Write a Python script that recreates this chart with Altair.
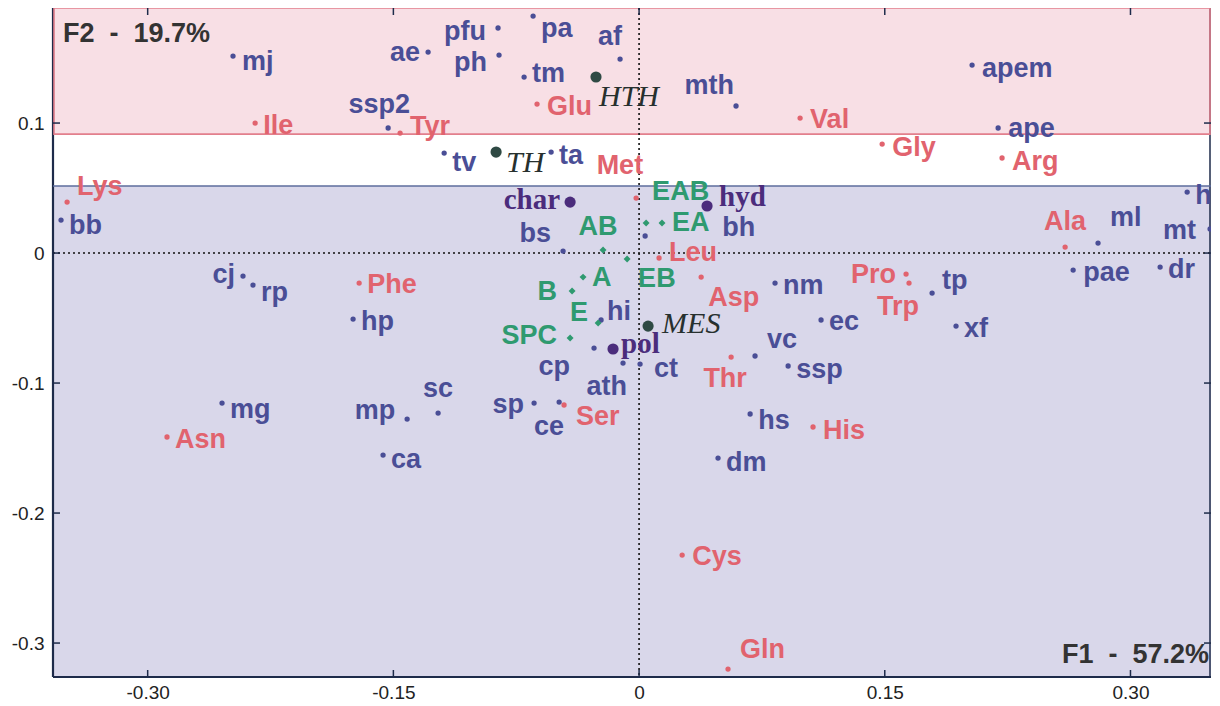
import altair as alt
import pandas as pd

# ---------------- data ----------------
species = ["mj", "ae", "pfu", "pa", "ph", "tm", "af", "mth", "apem", "ape", "ssp2", "tv", "ta",
           "bb", "h", "ml", "mt", "bs", "bh", "cj", "rp", "hp", "pae", "dr", "nm", "tp", "ec",
           "xf", "hi", "cp", "ath", "ct", "vc", "ssp", "sc", "mp", "mg", "sp", "ce", "ca", "hs", "dm"]
species_f1 = [-0.2479, -0.1288, -0.0861, -0.0647, -0.0855, -0.0702, -0.0116, 0.0592, 0.2033, 0.2192,
              -0.1532, -0.1190, -0.0537, -0.3529, 0.3346, 0.2802, 0.3486, -0.0464, 0.0037, -0.2418,
              -0.2357, -0.1746, 0.2650, 0.3181, 0.0830, 0.1789, 0.1111, 0.1935, -0.0232, -0.0275,
              -0.0098, 0.0006, 0.0708, 0.0910, -0.1227, -0.1416, -0.2546, -0.0641, -0.0488, -0.1563,
              0.0678, 0.0482]
species_f2 = [0.1515, 0.1546, 0.1731, 0.1823, 0.1523, 0.1354, 0.1492, 0.1131, 0.1446, 0.0962,
              0.0962, 0.0769, 0.0777, 0.0254, 0.0469, 0.0077, 0.0185, 0.0015, 0.0131, -0.0177,
              -0.0246, -0.0508, -0.0131, -0.0108, -0.0231, -0.0308, -0.0515, -0.0562, -0.0515, -0.0731,
              -0.0846, -0.0854, -0.0792, -0.0869, -0.1231, -0.1277, -0.1154, -0.1154, -0.1146, -0.1554,
              -0.1238, -0.1577]

amino = ["Ile", "Tyr", "Glu", "Val", "Gly", "Arg", "Met", "Lys", "Ala", "Leu", "Phe", "Asp", "Pro",
         "Trp", "Thr", "Ser", "Asn", "His", "Cys", "Gln"]
amino_f1 = [-0.2344, -0.1459, -0.0623, 0.0983, 0.1484, 0.2216, -0.0018, -0.3492, 0.2601, 0.0122,
            -0.1709, 0.0379, 0.1630, 0.1648, 0.0562, -0.0458, -0.2882, 0.1062, 0.0263, 0.0543]
amino_f2 = [0.1000, 0.0923, 0.1146, 0.1038, 0.0838, 0.0731, 0.0423, 0.0392, 0.0046, -0.0038,
            -0.0231, -0.0185, -0.0162, -0.0231, -0.0800, -0.1169, -0.1415, -0.1338, -0.2323, -0.3200]

groups = ["EAB", "EA", "AB", "EB", "A", "B", "E", "SPC"]
groups_f1 = [0.0043, 0.0140, -0.0220, -0.0073, -0.0342, -0.0409, -0.0250, -0.0421]
groups_f2 = [0.0231, 0.0231, 0.0023, -0.0046, -0.0185, -0.0292, -0.0538, -0.0654]

habitat = ["HTH", "TH", "MES"]
habitat_f1 = [-0.0263, -0.0873, 0.0055]
habitat_f2 = [0.1354, 0.0777, -0.0562]

props = ["char", "hyd", "pol"]
props_f1 = [-0.0421, 0.0415, -0.0159]
props_f2 = [0.0392, 0.0362, -0.0738]

x_ticks = [-0.30, -0.15, 0.0, 0.15, 0.30]
y_ticks = [0.1, 0.0, -0.1, -0.2, -0.3]
band_low = [-0.3261, 0.0915]
band_high = [0.0515, 0.1885]
NB = "\u00a0"
f1_text = f"F1{NB}{NB}-{NB}{NB}57.2%"
f2_text = f"F2{NB}{NB}-{NB}{NB}19.7%"

# ---------------- layout ----------------
W, H = 1158, 669
PXX, PXY = 1638.0, 1300.0
XMIN = -0.3578
XMAX = XMIN + W / PXX
YMAX = 0.1885
YMIN = YMAX - H / PXY

# label placement: (align, dx px, dy px)
LABEL_POS = {
    "mj": ("left", 9, 6), "ae": ("right", -8, 1), "pfu": ("right", -12, 4), "pa": ("left", 8, 13),
    "ph": ("right", -12, 8), "tm": ("left", 8, -3), "af": ("right", 2, -22), "mth": ("right", -2, -20),
    "apem": ("left", 10, 4), "ape": ("left", 10, 1), "ssp2": ("right", 22, -23), "tv": ("left", 8, 10),
    "ta": ("left", 8, 4), "bb": ("left", 8, 6), "h": ("left", 8, 4), "ml": ("left", 12, -25),
    "mt": ("right", -14, 2), "bs": ("right", -12, -17), "bh": ("left", 77, -8), "cj": ("right", -8, -1),
    "rp": ("left", 8, 8), "hp": ("left", 8, 3), "pae": ("left", 10, 3), "dr": ("left", 8, 3),
    "nm": ("left", 8, 3), "tp": ("left", 10, -12), "ec": ("left", 8, 2), "xf": ("left", 8, 3),
    "hi": ("left", 6, -8), "cp": ("right", -24, 19), "ath": ("right", 4, 24), "ct": ("left", 14, 5),
    "vc": ("left", 12, -16), "ssp": ("left", 8, 4), "sc": ("center", 0, -24), "mp": ("right", -12, -8),
    "mg": ("left", 8, 7), "sp": ("right", -10, 2), "ce": ("right", 5, 25), "ca": ("left", 8, 5),
    "hs": ("left", 8, 7), "dm": ("left", 8, 5),
    "Ile": ("left", 8, 3), "Tyr": ("left", 10, -6), "Glu": ("left", 10, 3), "Val": ("left", 10, 2),
    "Gly": ("left", 10, 4), "Arg": ("left", 10, 4), "Met": ("right", 7, -32), "Lys": ("left", 10, -15),
    "Ala": ("center", 0, -25), "Leu": ("left", 10, -5), "Phe": ("left", 8, 2), "Asp": ("left", 7, 21),
    "Pro": ("right", -10, 1), "Trp": ("right", 10, 24), "Thr": ("center", -6, 22), "Ser": ("left", 12, 12),
    "Asn": ("left", 8, 3), "His": ("left", 10, 4), "Cys": ("left", 10, 2), "Gln": ("left", 12, -19),
    "EAB": ("left", 6, -31), "EA": ("left", 10, 0), "AB": ("center", -5, -23), "EB": ("left", 11, 20),
    "A": ("left", 9, 1), "B": ("right", -15, 1), "E": ("right", -10, -10), "SPC": ("right", -13, -2),
    "HTH": ("left", 3, 20), "TH": ("left", 10, 11), "MES": ("left", 14, -2),
    "char": ("right", -10, -2), "hyd": ("left", 12, -9), "pol": ("left", 8, -5),
}

STYLE = {
    "species": dict(color="#4a4e96", font="Liberation Sans", fontWeight="bold", fontStyle="normal", fontSize=27),
    "amino": dict(color="#e1636e", font="Liberation Sans", fontWeight="bold", fontStyle="normal", fontSize=27),
    "group": dict(color="#2f9a70", font="Liberation Sans", fontWeight="bold", fontStyle="normal", fontSize=27),
    "habitat": dict(color="#27302e", font="Liberation Serif", fontWeight="normal", fontStyle="italic", fontSize=30),
    "prop": dict(color="#4b2c7c", font="Liberation Serif", fontWeight="bold", fontStyle="normal", fontSize=29),
}
DOT_COLOR = {"species": "#4a4e96", "amino": "#e1636e", "group": "#2f9a70",
             "habitat": "#2f4a44", "prop": "#4b2c7c"}

rows = []
for kind, names, xs_, ys_ in [("species", species, species_f1, species_f2),
                              ("amino", amino, amino_f1, amino_f2),
                              ("group", groups, groups_f1, groups_f2),
                              ("habitat", habitat, habitat_f1, habitat_f2),
                              ("prop", props, props_f1, props_f2)]:
    for n, a, b in zip(names, xs_, ys_):
        al, dx, dy = LABEL_POS[n]
        rows.append({"name": n, "kind": kind, "f1": a, "f2": b, "anchor": al,
                     "lx": a + dx / PXX, "ly": b - dy / PXY})
df = pd.DataFrame(rows)

xs = alt.Scale(domain=[XMIN, XMAX], nice=False, zero=False)
ys = alt.Scale(domain=[YMIN, YMAX], nice=False, zero=False)

minus = "\u2212"
x_axis = alt.Axis(values=x_ticks, title="", grid=False, domain=False, ticks=False,
                  labelExpr=f"datum.value == 0 ? '0' : replace(format(datum.value, '.2f'), '{minus}', '-')",
                  labelPadding=6, labelFontSize=19, labelFont="Liberation Sans", labelColor="#222222")
y_axis = alt.Axis(values=y_ticks, title="", grid=False, domain=False, ticks=False,
                  labelExpr=f"datum.value == 0 ? '0' : replace(format(datum.value, '.1f'), '{minus}', '-')",
                  labelPadding=9, labelFontSize=19, labelFont="Liberation Sans", labelColor="#222222")


def X(field):
    return alt.X(field, scale=xs, axis=x_axis)


def Y(field):
    return alt.Y(field, scale=ys, axis=y_axis)


layers = []

# background bands
bands = pd.DataFrame({"lo": band_low, "hi": band_high})
layers.append(alt.Chart(bands.iloc[[0]]).mark_rect(color="#d9d7ea").encode(
    x=alt.value(0), x2=alt.value(W), y=Y("lo:Q"), y2="hi:Q"))
layers.append(alt.Chart(bands.iloc[[1]]).mark_rect(color="#f8dfe5").encode(
    x=alt.value(0), x2=alt.value(W), y=Y("lo:Q"), y2="hi:Q"))

one = pd.DataFrame({"v": [0.0]})
# frame (dark)
frame_col = "#1e2b4a"
layers.append(alt.Chart(one).mark_rule(color=frame_col, strokeWidth=2.2).encode(
    x=alt.value(0), y=alt.value(0), y2=alt.value(H)))
layers.append(alt.Chart(one).mark_rule(color=frame_col, strokeWidth=2.2).encode(
    x=alt.value(0), x2=alt.value(W), y=alt.value(H)))
layers.append(alt.Chart(one).mark_rule(color=frame_col, strokeWidth=1.5).encode(
    x=alt.value(W - 1), y=alt.value(0), y2=alt.value(H)))

# band borders
blue_line = pd.DataFrame({"v": [band_high[0]]})
layers.append(alt.Chart(blue_line).mark_rule(color="#5d6c9c", strokeWidth=1.5).encode(
    y=Y("v:Q"), x=alt.value(0), x2=alt.value(W)))
layers.append(
    alt.Chart(bands.iloc[[1]]).mark_rect(fillOpacity=0, stroke="#e27f8c", strokeWidth=1.6).encode(
        x=alt.value(1), x2=alt.value(W - 1), y=Y("lo:Q"), y2="hi:Q")
)

# zero dotted lines
layers.append(alt.Chart(one).mark_rule(color="#111111", strokeWidth=1.6, strokeDash=[2, 3]).encode(
    x=X("v:Q"), y=alt.value(0), y2=alt.value(H)))
layers.append(alt.Chart(one).mark_rule(color="#111111", strokeWidth=1.6, strokeDash=[2, 3]).encode(
    y=Y("v:Q"), x=alt.value(0), x2=alt.value(W)))

# inward ticks
xt = pd.DataFrame({"t": x_ticks})
yt = pd.DataFrame({"t": y_ticks})
layers.append(alt.Chart(xt).mark_rule(color=frame_col, strokeWidth=1.5).encode(
    x=X("t:Q"), y=alt.value(H), y2=alt.value(H - 7)))
layers.append(alt.Chart(xt).mark_rule(color=frame_col, strokeWidth=1.5).encode(
    x=X("t:Q"), y=alt.value(0), y2=alt.value(7)))
layers.append(alt.Chart(yt).mark_rule(color=frame_col, strokeWidth=1.5).encode(
    y=Y("t:Q"), x=alt.value(0), x2=alt.value(7)))
layers.append(alt.Chart(yt).mark_rule(color=frame_col, strokeWidth=1.5).encode(
    y=Y("t:Q"), x=alt.value(W), x2=alt.value(W - 7)))

# points
for kind in ["species", "amino"]:
    layers.append(alt.Chart(df[df["kind"] == kind]).mark_circle(size=28, opacity=1, color=DOT_COLOR[kind]).encode(
        x=X("f1:Q"), y=Y("f2:Q")))
layers.append(alt.Chart(df[df["kind"] == "group"]).mark_point(
    shape="diamond", filled=True, size=48, opacity=1, color=DOT_COLOR["group"]).encode(
    x=X("f1:Q"), y=Y("f2:Q")))
for kind in ["habitat", "prop"]:
    layers.append(alt.Chart(df[df["kind"] == kind]).mark_circle(size=125, opacity=1, color=DOT_COLOR[kind]).encode(
        x=X("f1:Q"), y=Y("f2:Q")))

# labels
for kind, st in STYLE.items():
    for al in ["left", "right", "center"]:
        sub = df[(df["kind"] == kind) & (df["anchor"] == al)]
        if len(sub) == 0:
            continue
        layers.append(alt.Chart(sub).mark_text(
            align=al, baseline="middle", font=st["font"], fontSize=st["fontSize"],
            fontWeight=st["fontWeight"], fontStyle=st["fontStyle"], color=st["color"]).encode(
            x=X("lx:Q"), y=Y("ly:Q"), text="name:N"))

# axis-percentage annotations
ann = pd.DataFrame({"t": [f2_text]})
layers.append(alt.Chart(ann).mark_text(align="left", baseline="middle", font="Liberation Sans",
                                       fontSize=27, fontWeight="bold", color="#333333").encode(
    x=alt.value(10), y=alt.value(26), text="t:N"))
ann1 = pd.DataFrame({"t": [f1_text]})
layers.append(alt.Chart(ann1).mark_text(align="right", baseline="middle", font="Liberation Sans",
                                        fontSize=27, fontWeight="bold", color="#333333").encode(
    x=alt.value(W - 2), y=alt.value(647), text="t:N"))

chart = alt.layer(*layers).properties(
    width=W, height=H,
    padding={"left": 45, "top": 0, "right": 0, "bottom": 30},
    autosize=alt.AutoSizeParams(type="none"),
    background="white",
).configure_view(strokeWidth=0)

chart.save("out.html", embed_options={"renderer": "svg", "actions": False})
